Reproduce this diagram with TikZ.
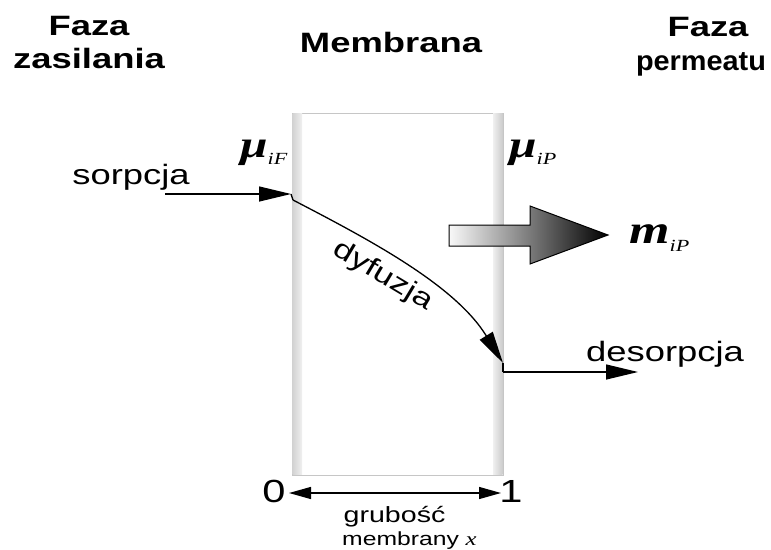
\documentclass[tikz,border=0pt]{standalone}
\usepackage{fontspec}
\setmainfont[FakeStretch=1.3]{Liberation Sans}
\newfontfamily\narrowsans[FakeStretch=1.05]{Liberation Sans}
\newfontfamily\serifit[FakeStretch=1.3]{Liberation Serif}
\usetikzlibrary{arrows.meta}
\begin{document}
\begin{tikzpicture}[x=1pt,y=-1pt,
  lbl/.style={font=\fontsize{28}{28}\selectfont, inner sep=0pt},
  hd/.style={font=\fontsize{28}{28}\selectfont\bfseries, inner sep=0pt, anchor=base},
  flow/.style={-{Triangle[length=32pt,width=15pt]}, line width=1.3pt},
  plain/.style={line width=1.3pt},
  dim/.style={{Triangle[length=22pt,width=12pt]}-{Triangle[length=22pt,width=12pt]}, line width=1.3pt},
  sym/.style={inner sep=0pt, anchor=base west}]
\useasboundingbox (0,0) rectangle (771,549);
% headings
\node[hd] (fzL1) at (89,35) {Faza};
\node[hd] (fzL2) at (89,68) {zasilania};
\node[hd] (mem) at (391,52) {Membrana};
\node[hd] (fzR1) at (708,36) {Faza};
\node[hd, font=\narrowsans\fontsize{27.5}{27.5}\selectfont\bfseries] (fzR2) at (701,70) {permeatu};
% membrane
\path[draw=gray!45, fill=white, line width=0.8pt] (292,113) rectangle (503,475);
\shade[left color=gray!35, right color=gray!12] (292.5,113.5) rectangle (302,474.5);
\shade[left color=gray!12, right color=gray!40] (493,113.5) rectangle (502.5,474.5);
% potentials
\node[sym] (muF) at (240,157) {{\serifit\fontsize{38}{38}\selectfont\bfseries\itshape μ}\raisebox{-7pt}{\serifit\fontsize{17}{17}\selectfont\itshape iF}};
\node[sym] (muP) at (509,157) {{\serifit\fontsize{38}{38}\selectfont\bfseries\itshape μ}\raisebox{-7pt}{\serifit\fontsize{17}{17}\selectfont\itshape iP}};
% flow path
\coordinate (sA) at (165,194);
\coordinate (sB) at (291,194);
\coordinate (cA) at (293,200);
\coordinate (cB) at (503,363);
\coordinate (dA) at (503,372);
\coordinate (dB) at (638,372);
\node[lbl] (sor) at (131,177) {sorpcja};
\node[lbl] (des) at (665,354) {desorpcja};
\draw[flow] (sA) -- (sB);
\draw[plain] (sB) -- (cA);
\draw[flow] (cA) .. controls (370,240) and (455,285) .. (cB);
\draw[plain] (cB) -- (dA);
\draw[flow] (dA) -- (dB);
\node[lbl, font=\fontsize{27}{27}\selectfont, rotate=-31] (dyf) at (383,276) {dyfuzja};
% big flux arrow
\path[draw=black, line width=1pt, left color=gray!5, right color=black]
  (449,225) -- (530,225) -- (530,206) -- (608,235) -- (530,264) -- (530,246) -- (449,246) -- cycle;
\node[sym] (mP) at (629,243) {{\serifit\fontsize{40}{40}\selectfont\bfseries\itshape m}\raisebox{-8pt}{\serifit\fontsize{17}{17}\selectfont\itshape iP}};
% thickness
\node[lbl, font=\fontsize{32}{32}\selectfont] (n0) at (274,491) {0};
\node[lbl, font=\fontsize{32}{32}\selectfont] (n1) at (511,491) {1};
\coordinate (b0) at (289,493);
\coordinate (b1) at (501,493);
\draw[dim] (b0) -- (b1);
\node[lbl, font=\fontsize{22}{22}\selectfont, anchor=base] (gr) at (394.5,522) {grubość};
\node[lbl, font=\fontsize{19}{19}\selectfont, anchor=base west] (mx) at (342,545) {membrany {\serifit\itshape x}};
\end{tikzpicture}
\end{document}
